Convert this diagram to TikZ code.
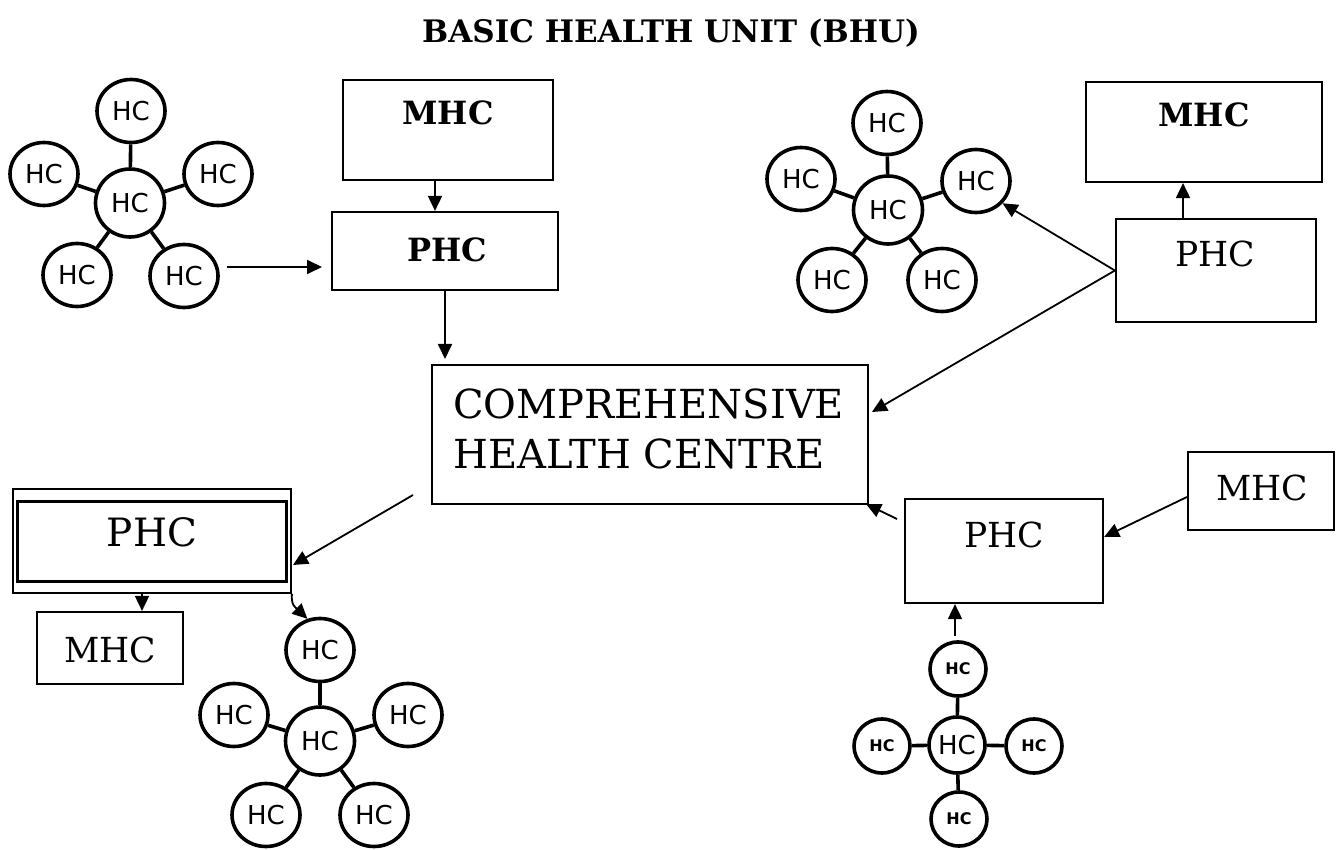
\documentclass[tikz,border=0pt]{standalone}
\usepackage{fontspec}
\setmainfont{DejaVu Serif}
\newfontfamily\hcfont{DejaVu Sans}
\usetikzlibrary{arrows.meta,shapes.geometric,calc}
\begin{document}
\begin{tikzpicture}[x=1pt,y=-1pt,
  box/.style={draw,line width=2.2pt,rectangle,inner sep=0pt},
  arr/.style={line width=1.8pt,-{Triangle[length=15pt,width=14pt]}},
  hc/.style={draw,line width=3.6pt,ellipse,inner sep=0pt,minimum width=68pt,minimum height=63pt,font=\hcfont\fontsize{26}{26}\selectfont},
  hcc/.style={hc,minimum width=69pt,minimum height=68pt},
  hcs/.style={draw,line width=3.6pt,ellipse,inner sep=0pt,minimum width=56pt,minimum height=54pt,font=\hcfont\bfseries\fontsize{16}{16}\selectfont},
  hcsc/.style={hcs,minimum width=56pt,minimum height=56pt,font=\hcfont\fontsize{26}{26}\selectfont},
  link/.style={line width=3.6pt},
  lbl/.style={anchor=base,inner sep=0pt},
  bigtxt/.style={lbl,font=\fontsize{39}{39}\selectfont},
  medtxt/.style={lbl,font=\fontsize{34.5}{34.5}\selectfont},
  boldtxt/.style={lbl,font=\bfseries\fontsize{32}{32}\selectfont},
]
\useasboundingbox (0,0) rectangle (1342,850);

% title
\node[lbl,font=\bfseries\fontsize{31}{31}\selectfont] (title) at (671,43) {BASIC HEALTH UNIT (BHU)};

% boxes
\node[box,minimum width=210pt,minimum height=100pt] (mhcA) at (448,130) {};
\node[box,minimum width=226pt,minimum height=78pt] (phcA) at (445,251) {};
\node[box,line width=2.4pt,minimum width=436pt,minimum height=139pt] (chc) at (650,434.5) {};
\node[box,minimum width=236pt,minimum height=100pt] (mhcB) at (1204,132) {};
\node[box,minimum width=200pt,minimum height=103pt] (phcB) at (1216,270.5) {};
\node[box,line width=1.8pt,minimum width=278pt,minimum height=104pt] (phcC) at (152,541) {};
\node[box,line width=2.6pt,minimum width=269pt,minimum height=80pt] (phcCin) at (152,541.5) {};
\node[box,minimum width=146pt,minimum height=72pt] (mhcC) at (110,648) {};
\node[box,minimum width=198pt,minimum height=104pt] (phcD) at (1004,551) {};
\node[box,minimum width=146pt,minimum height=78pt] (mhcD) at (1261,491) {};

% box texts
\node[boldtxt] (tA1) at (448,125) {MHC};
\node[boldtxt] (tA2) at (447,262) {PHC};
\node[boldtxt] (tB1) at (1204,127) {MHC};
\node[medtxt] (tB2) at (1215,267) {PHC};
\node[lbl,anchor=base west,font=\fontsize{40}{40}\selectfont] (tC1) at (453,418) {COMPREHENSIVE};
\node[lbl,anchor=base west,font=\fontsize{40}{40}\selectfont] (tC2) at (453,468) {HEALTH CENTRE};
\node[bigtxt] (tD1) at (152,546) {PHC};
\node[medtxt] (tD2) at (110,662) {MHC};
\node[medtxt] (tE1) at (1004,547) {PHC};
\node[medtxt] (tE2) at (1262,500) {MHC};

% star 1 (top left)
\node[hcc] (s1c) at (130,203) {HC};
\node[hc] (s1t) at (131,111) {HC};
\node[hc] (s1l) at (44,174) {HC};
\node[hc] (s1r) at (218,174) {HC};
\node[hc] (s1bl) at (77,275) {HC};
\node[hc] (s1br) at (184,276) {HC};
\foreach \n in {s1t,s1l,s1r,s1bl,s1br} \draw[link] (s1c) -- (\n);

% star 2 (top right)
\node[hcc] (s2c) at (888,210) {HC};
\node[hc] (s2t) at (887,123) {HC};
\node[hc] (s2l) at (801,179) {HC};
\node[hc] (s2r) at (976,181) {HC};
\node[hc] (s2bl) at (832,280) {HC};
\node[hc] (s2br) at (942,280) {HC};
\foreach \n in {s2t,s2l,s2r,s2bl,s2br} \draw[link] (s2c) -- (\n);

% star 3 (bottom left)
\node[hcc] (s3c) at (320,741) {HC};
\node[hc] (s3t) at (320,650) {HC};
\node[hc] (s3l) at (234,715) {HC};
\node[hc] (s3r) at (408,715) {HC};
\node[hc] (s3bl) at (266,815) {HC};
\node[hc] (s3br) at (374,815) {HC};
\foreach \n in {s3t,s3l,s3r,s3bl,s3br} \draw[link] (s3c) -- (\n);

% cross (bottom right)
\node[hcsc] (s4c) at (957,745) {HC};
\node[hcs] (s4t) at (958,669) {HC};
\node[hcs] (s4l) at (882,746) {HC};
\node[hcs] (s4r) at (1034,746) {HC};
\node[hcs] (s4b) at (959,819) {HC};
\foreach \n in {s4t,s4l,s4r,s4b} \draw[link] (s4c) -- (\n);

% free ends
\coordinate (a2s) at (227,267);
\coordinate (a2e) at (322,267);
\coordinate (a3e) at (445,359);
\coordinate (a6e) at (872,412);
\coordinate (a7s) at (413,495);
\coordinate (a7e) at (293,565);
\coordinate (a10s) at (897,519);
\coordinate (a10e) at (866,504);
\coordinate (a12s) at (955,636);

% connectors
\draw[arr] (mhcA.south -| 435,0) -- (phcA.north -| 435,0);
\draw[arr] (a2s) -- (a2e);
\draw[arr] (phcA.south) -- (a3e);
\draw[arr] (phcB.north -| 1183,0) -- (mhcB.south -| 1183,0);
\draw[arr] (phcB.west) -- (s2r.-40);
\draw[arr] (phcB.west) -- (a6e);
\draw[arr] (a7s) -- (a7e);
\draw[arr] (phcC.south -| 142,0) -- (mhcC.north -| 142,0);
\draw[arr] (phcC.south east) .. controls (291,605) and (295,607) .. (s3t.112);
\draw[arr] (a10s) -- (a10e);
\draw[arr] (mhcD.west |- 0,497) -- (phcD.east |- 0,537);
\draw[arr] (a12s) -- (phcD.south -| a12s);
\end{tikzpicture}
\end{document}
